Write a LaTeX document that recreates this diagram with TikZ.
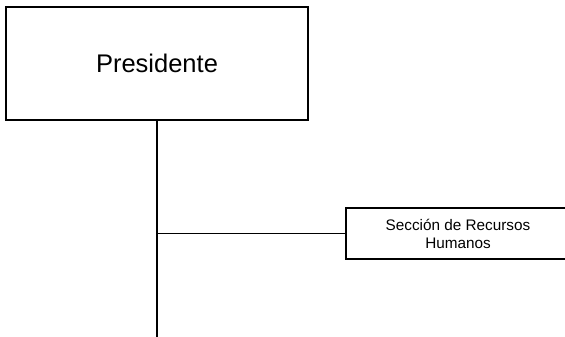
\documentclass[tikz,border=0pt]{standalone}
\usepackage{fontspec}
\setmainfont{Liberation Sans}
\begin{document}
\begin{tikzpicture}[x=1pt,y=-1pt,
  orgbox/.style={draw=black,line width=1.6pt,fill=white,inner sep=0pt,align=center},
  conn/.style={draw=black,line width=1.6pt}]
\useasboundingbox (0,0) rectangle (565,337);
\node[orgbox,minimum width=302pt,minimum height=113pt,font=\fontsize{25.5}{30}\selectfont] (pres) at (157,63.5) {Presidente};
\node[orgbox,minimum width=224pt,minimum height=51pt,font=\fontsize{15.3}{18}\selectfont] (rh) at (458,233.5) {Sección de Recursos\\Humanos};
\coordinate (bot) at (157,340);
\coordinate (j) at (157,233.5);
\draw[conn] (pres.south) -- (bot);
\draw[conn] (j) -- (rh.west);
\end{tikzpicture}
\end{document}
